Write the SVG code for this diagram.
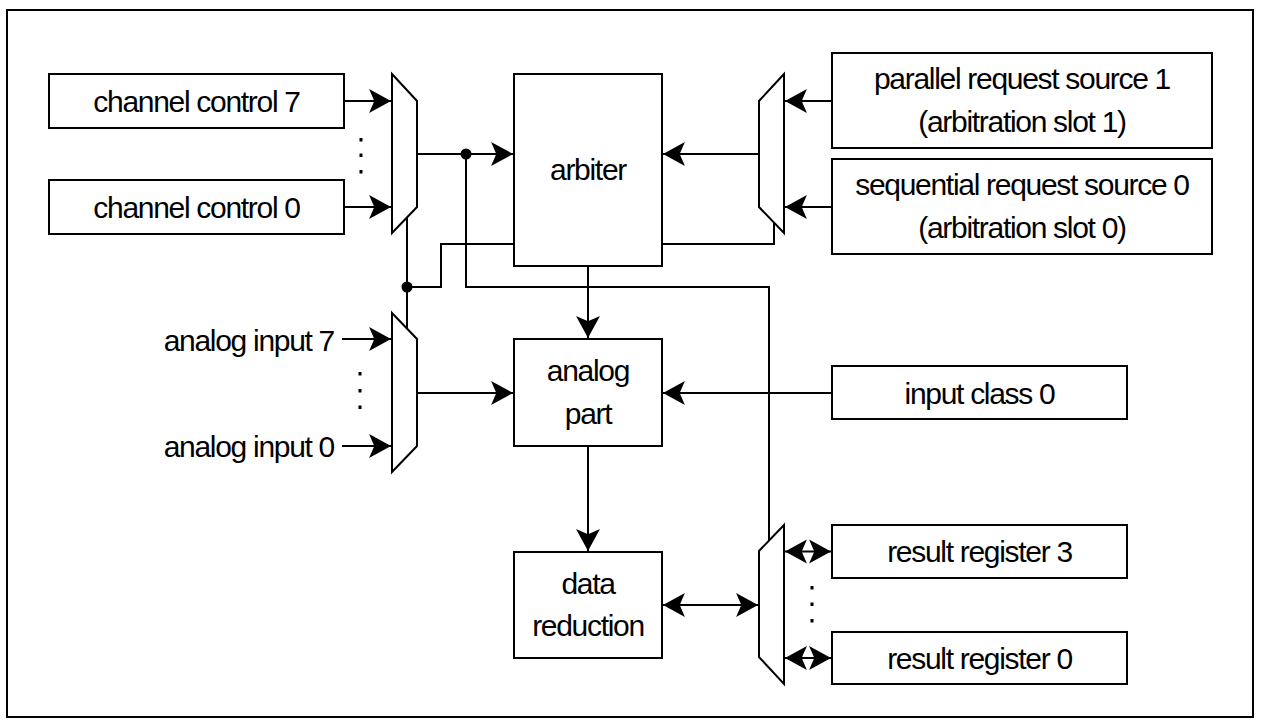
<svg xmlns="http://www.w3.org/2000/svg" width="1261" height="727" viewBox="0 0 1261 727">
<defs>
<style>
.box{fill:#fff;stroke:#000;stroke-width:2}
.mux{fill:#fff;stroke:#000;stroke-width:2;stroke-linejoin:miter}
.ln{fill:none;stroke:#000;stroke-width:2}
.arr{marker-end:url(#ah)}
.dbl{marker-start:url(#ah);marker-end:url(#ah)}
.dot{fill:#000}
text{font-family:"Liberation Sans",Arial,Helvetica,sans-serif;font-size:30px;letter-spacing:-1.3px;fill:#000;text-anchor:middle}
.end{text-anchor:end}
</style>
<marker id="ah" markerUnits="userSpaceOnUse" markerWidth="24" markerHeight="26" viewBox="-22 -12 23 24" refX="0" refY="0" orient="auto-start-reverse">
<path d="M0,0 L-21,-11.5 L-16,0 L-21,11.5 Z" fill="#000"/>
</marker>
</defs>
<rect x="7" y="10" width="1246" height="707" fill="#fff" stroke="#000" stroke-width="2"/>
<g id="connectors">
<line class="ln arr" x1="344" y1="101" x2="391" y2="101"/>
<line class="ln arr" x1="344" y1="207" x2="391" y2="207"/>
<line class="ln arr" x1="417" y1="154" x2="513" y2="154"/>
<polyline class="ln" points="466,154 466,287 769,287 769,541"/>
<line class="ln" x1="407" y1="217" x2="407" y2="329"/>
<polyline class="ln" points="407,287 441,287 441,244 514,244"/>
<polyline class="ln" points="662,244 774,244 774,223"/>
<line class="ln arr" x1="832" y1="101" x2="785" y2="101"/>
<line class="ln arr" x1="832" y1="207" x2="785" y2="207"/>
<line class="ln arr" x1="759" y1="154" x2="663" y2="154"/>
<line class="ln arr" x1="588" y1="266" x2="588" y2="338"/>
<line class="ln arr" x1="342" y1="339" x2="391" y2="339"/>
<line class="ln arr" x1="342" y1="446" x2="391" y2="446"/>
<line class="ln arr" x1="417" y1="393" x2="513" y2="393"/>
<line class="ln arr" x1="832" y1="393" x2="663" y2="393"/>
<line class="ln arr" x1="588" y1="446" x2="588" y2="551"/>
<line class="ln dbl" x1="663" y1="605" x2="758" y2="605"/>
<line class="ln dbl" x1="785" y1="551.5" x2="831" y2="551.5"/>
<line class="ln dbl" x1="785" y1="658" x2="831" y2="658"/>
<circle cx="466" cy="154" r="5.5" fill="#000"/>
<circle cx="407" cy="287" r="5.5" fill="#000"/>
</g>
<g id="mux-cc"><polygon class="mux" points="392,74 417,101 417,207 392,233"/></g>
<g id="mux-req"><polygon class="mux" points="784,74 759,101 759,207 784,233"/></g>
<g id="mux-ain"><polygon class="mux" points="392,313 417,339 417,446 392,472"/></g>
<g id="mux-res"><polygon class="mux" points="784,525 759,551 759,657 784,684"/></g>
<g id="cc7"><rect class="box" x="49" y="74" width="295" height="54"/><text x="196.5" y="112">channel control 7</text></g>
<g id="cc-dots"><rect class="dot" x="359.5" y="138" width="3" height="3.5"/><rect class="dot" x="359.5" y="153.5" width="3" height="3.5"/><rect class="dot" x="359.5" y="170" width="3" height="3.5"/></g>
<g id="cc0"><rect class="box" x="49" y="180" width="295" height="54"/><text x="196.5" y="218">channel control 0</text></g>
<g id="arbiter"><rect class="box" x="514" y="74" width="148" height="192"/><text x="588" y="180">arbiter</text></g>
<g id="parallel"><rect class="box" x="832" y="53" width="380" height="95"/><text x="1022" y="88.5">parallel request source 1</text><text x="1022" y="131.5">(arbitration slot 1)</text></g>
<g id="sequential"><rect class="box" x="832" y="159" width="380" height="95"/><text x="1022" y="194.5">sequential request source 0</text><text x="1022" y="237.5">(arbitration slot 0)</text></g>
<g id="ain7"><text class="end" x="334" y="350.5">analog input 7</text></g>
<g id="ain-dots"><rect class="dot" x="358.5" y="372" width="3" height="3.5"/><rect class="dot" x="358.5" y="389" width="3" height="3.5"/><rect class="dot" x="358.5" y="405.5" width="3" height="3.5"/></g>
<g id="ain0"><text class="end" x="334" y="457">analog input 0</text></g>
<g id="analog"><rect class="box" x="514" y="339" width="148" height="107"/><text x="588" y="381">analog</text><text x="588" y="424">part</text></g>
<g id="inclass"><rect class="box" x="832" y="366" width="295" height="53"/><text x="979.5" y="403.5">input class 0</text></g>
<g id="datared"><rect class="box" x="514" y="552" width="148" height="106"/><text x="588" y="593.5">data</text><text x="588" y="636">reduction</text></g>
<g id="res3"><rect class="box" x="832" y="525" width="295" height="53"/><text x="979.5" y="562">result register 3</text></g>
<g id="res-dots"><rect class="dot" x="810.5" y="586" width="3" height="3.5"/><rect class="dot" x="810.5" y="602.5" width="3" height="3.5"/><rect class="dot" x="810.5" y="619" width="3" height="3.5"/></g>
<g id="res0"><rect class="box" x="832" y="632" width="295" height="52"/><text x="979.5" y="668.5">result register 0</text></g>
</svg>
